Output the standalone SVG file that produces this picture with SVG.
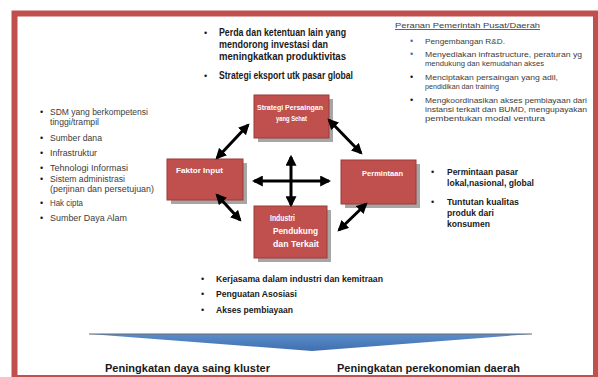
<svg xmlns="http://www.w3.org/2000/svg" width="598" height="377" viewBox="0 0 598 377">
<style>
.b{font-family:"Liberation Sans",Arial,sans-serif;font-weight:bold;fill:#1a1a1a;font-size:10px}
.l{font-family:"Liberation Sans",Arial,sans-serif;fill:#3c3c3c;font-size:8.5px}
.s{font-family:"Liberation Sans",Arial,sans-serif;fill:#3c3c3c;font-size:7.5px}
.w{font-family:"Liberation Sans",Arial,sans-serif;font-weight:bold;fill:#ffffff;font-size:7.5px}
.box{fill:#C0504D;stroke:#9B3A37;stroke-width:1}
.sh{fill:#A6A6A6}
.arr{stroke:#000;stroke-width:3;fill:none;marker-start:url(#ah);marker-end:url(#ah)}
.blt{font-family:"Liberation Sans",Arial,sans-serif;fill:#1a1a1a;font-size:9px}
</style>
<defs>
<marker id="ah" viewBox="0 0 10 10" refX="8" refY="5" markerWidth="11" markerHeight="11" markerUnits="userSpaceOnUse" orient="auto-start-reverse">
<path d="M0,0 L10,5 L0,10 z" fill="#000"/>
</marker>
<linearGradient id="bg" x1="0" y1="0" x2="0" y2="1">
<stop offset="0" stop-color="#5B8DCB"/>
<stop offset="1" stop-color="#3F6FAE"/>
</linearGradient>
</defs>
<rect x="14.5" y="13.5" width="581.5" height="364.5" fill="#fff" stroke="#C0504D" stroke-width="6"/>

<g id="top-list">
<text class="blt" x="204" y="36">•</text>
<text class="b" x="219" y="36" textLength="127" lengthAdjust="spacingAndGlyphs">Perda dan ketentuan lain yang</text>
<text class="b" x="219" y="48" textLength="109" lengthAdjust="spacingAndGlyphs">mendorong investasi dan</text>
<text class="b" x="219" y="60" textLength="127" lengthAdjust="spacingAndGlyphs">meningkatkan produktivitas</text>
<text class="blt" x="204" y="79">•</text>
<text class="b" x="219" y="79" textLength="134" lengthAdjust="spacingAndGlyphs">Strategi eksport utk pasar global</text>
</g>

<g id="gov-list">
<text class="s" x="395" y="28" style="font-size:8px" textLength="145" lengthAdjust="spacingAndGlyphs" text-decoration="underline">Peranan Pemerintah Pusat/Daerah</text>
<text class="blt" x="410" y="44" style="fill:#4F6FA8">•</text>
<text class="s" x="425" y="44" textLength="80" lengthAdjust="spacingAndGlyphs">Pengembangan R&amp;D.</text>
<text class="blt" x="410" y="57" style="fill:#4F6FA8">•</text>
<text class="s" x="425" y="57" textLength="157" lengthAdjust="spacingAndGlyphs">Menyediakan infrastructure, peraturan yg</text>
<text class="s" x="425" y="66" textLength="119" lengthAdjust="spacingAndGlyphs">mendukung dan kemudahan akses</text>
<text class="blt" x="410" y="80">•</text>
<text class="s" x="425" y="80" textLength="133" lengthAdjust="spacingAndGlyphs">Menciptakan persaingan yang adil,</text>
<text class="s" x="425" y="89" textLength="74" lengthAdjust="spacingAndGlyphs">pendidikan dan training</text>
<text class="blt" x="410" y="103">•</text>
<text class="s" x="425" y="103" textLength="162" lengthAdjust="spacingAndGlyphs">Mengkoordinasikan akses pembiayaan dari</text>
<text class="s" x="425" y="112" textLength="162" lengthAdjust="spacingAndGlyphs">instansi terkait dan BUMD, mengupayakan</text>
<text class="s" x="425" y="121" textLength="120" lengthAdjust="spacingAndGlyphs">pembentukan modal ventura</text>
</g>

<g id="input-list">
<text class="blt" x="40" y="115">•</text>
<text class="l" x="50" y="115" textLength="98" lengthAdjust="spacingAndGlyphs">SDM yang berkompetensi</text>
<text class="l" x="50" y="125" textLength="49" lengthAdjust="spacingAndGlyphs">tinggi/trampil</text>
<text class="blt" x="40" y="141">•</text>
<text class="l" x="50" y="141" textLength="52" lengthAdjust="spacingAndGlyphs">Sumber dana</text>
<text class="blt" x="40" y="156">•</text>
<text class="l" x="50" y="156" textLength="47" lengthAdjust="spacingAndGlyphs">Infrastruktur</text>
<text class="blt" x="40" y="171">•</text>
<text class="l" x="50" y="171" textLength="78" lengthAdjust="spacingAndGlyphs">Tehnologi Informasi</text>
<text class="blt" x="40" y="182">•</text>
<text class="l" x="50" y="182" textLength="75" lengthAdjust="spacingAndGlyphs">Sistem administrasi</text>
<text class="l" x="50" y="192" textLength="104" lengthAdjust="spacingAndGlyphs">(perjinan dan persetujuan)</text>
<text class="blt" x="40" y="206">•</text>
<text class="l" x="50" y="206" textLength="33" lengthAdjust="spacingAndGlyphs">Hak cipta</text>
<text class="blt" x="40" y="221">•</text>
<text class="l" x="50" y="221" textLength="77" lengthAdjust="spacingAndGlyphs">Sumber Daya Alam</text>
</g>

<g id="demand-list">
<text class="blt" x="431" y="175">•</text>
<text class="b" x="447" y="175" style="font-size:9px" textLength="71" lengthAdjust="spacingAndGlyphs">Permintaan pasar</text>
<text class="b" x="447" y="186" style="font-size:9px" textLength="87" lengthAdjust="spacingAndGlyphs">lokal,nasional, global</text>
<text class="blt" x="431" y="205">•</text>
<text class="b" x="447" y="205" style="font-size:9px" textLength="72" lengthAdjust="spacingAndGlyphs">Tuntutan kualitas</text>
<text class="b" x="447" y="216" style="font-size:9px" textLength="47" lengthAdjust="spacingAndGlyphs">produk dari</text>
<text class="b" x="447" y="227" style="font-size:9px" textLength="43" lengthAdjust="spacingAndGlyphs">konsumen</text>
</g>

<g id="industry-list">
<text class="blt" x="201" y="282">•</text>
<text class="b" x="216" y="282" style="font-size:9px" textLength="167" lengthAdjust="spacingAndGlyphs">Kerjasama dalam industri dan kemitraan</text>
<text class="blt" x="201" y="297">•</text>
<text class="b" x="216" y="297" style="font-size:9px" textLength="81" lengthAdjust="spacingAndGlyphs">Penguatan Asosiasi</text>
<text class="blt" x="201" y="313">•</text>
<text class="b" x="216" y="313" style="font-size:9px" textLength="77" lengthAdjust="spacingAndGlyphs">Akses pembiayaan</text>
</g>

<g id="node-strategi">
<rect class="sh" x="258" y="99" width="75" height="43"/>
<rect class="box" x="254" y="95" width="75" height="43"/>
<text class="w" x="257" y="110" textLength="66" lengthAdjust="spacingAndGlyphs">Strategi Persaingan</text>
<text class="w" x="276" y="121" textLength="31" lengthAdjust="spacingAndGlyphs">yang Sehat</text>
</g>
<g id="node-faktor">
<rect class="sh" x="171" y="163" width="76" height="41"/>
<rect class="box" x="167" y="159" width="76" height="41"/>
<text class="w" x="176" y="173" textLength="47" lengthAdjust="spacingAndGlyphs">Faktor Input</text>
</g>
<g id="node-permintaan">
<rect class="sh" x="345" y="164" width="75" height="44"/>
<rect class="box" x="341" y="160" width="75" height="44"/>
<text class="w" x="362" y="176" textLength="41" lengthAdjust="spacingAndGlyphs">Permintaan</text>
</g>
<g id="node-industri">
<rect class="sh" x="258" y="210" width="73" height="52"/>
<rect class="box" x="254" y="206" width="73" height="52"/>
<text class="w" x="270" y="221" style="font-size:9px" textLength="25" lengthAdjust="spacingAndGlyphs">Industri</text>
<text class="w" x="273" y="234" style="font-size:9px" textLength="45" lengthAdjust="spacingAndGlyphs">Pendukung</text>
<text class="w" x="273" y="247" style="font-size:9px" textLength="46" lengthAdjust="spacingAndGlyphs">dan Terkait</text>
</g>

<g id="connectors">
<line class="arr" x1="217" y1="158" x2="248" y2="125"/>
<line class="arr" x1="329" y1="120" x2="361" y2="153"/>
<line class="arr" x1="217" y1="195" x2="240" y2="220"/>
<line class="arr" x1="339" y1="230" x2="366" y2="204"/>
<line class="arr" x1="254" y1="181" x2="329" y2="181"/>
<line class="arr" x1="291" y1="157" x2="291" y2="205"/>
</g>

<g id="result-arrow">
<polygon points="89,334 532,334 312,351" fill="url(#bg)"/>
<line x1="89" y1="334" x2="532" y2="334" stroke="#6b6b6b" stroke-width="1.2"/>
</g>
<g id="results">
<text class="b" x="105" y="372" style="font-size:11px" textLength="165" lengthAdjust="spacingAndGlyphs">Peningkatan daya saing kluster</text>
<text class="b" x="337" y="372" style="font-size:11px" textLength="183" lengthAdjust="spacingAndGlyphs">Peningkatan perekonomian daerah</text>
</g>
</svg>
